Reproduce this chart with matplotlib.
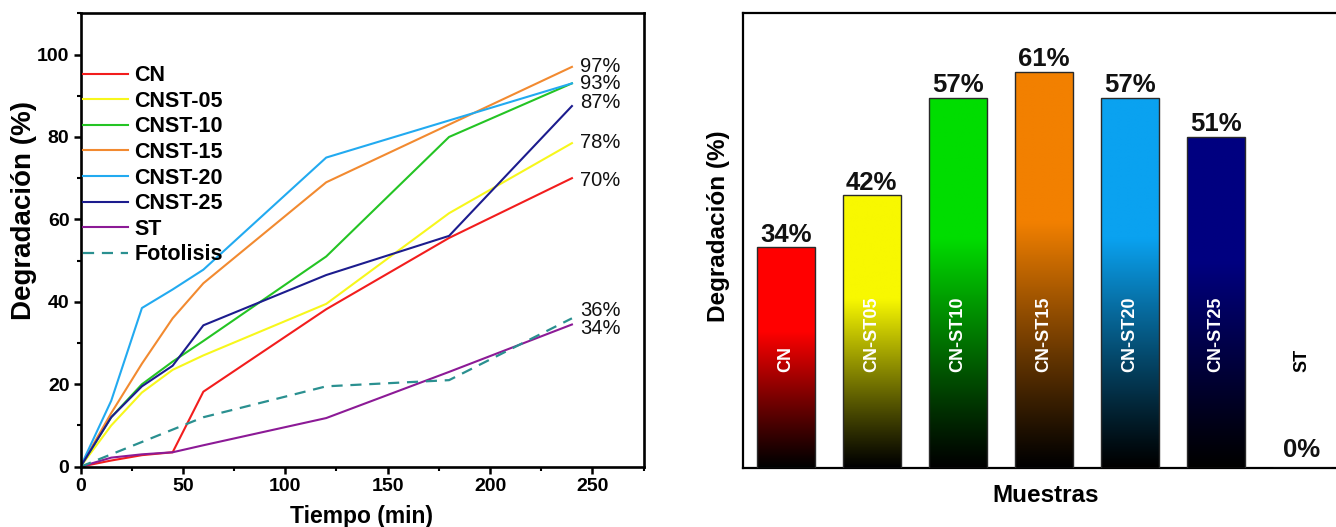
import numpy as np
import matplotlib
matplotlib.use("Agg")
import matplotlib.pyplot as plt
from matplotlib.ticker import MultipleLocator
from matplotlib.colors import to_rgb

plt.rcParams['font.family'] = ['Liberation Sans', 'DejaVu Sans']

# ---------------- data: left panel (kinetics) ----------------
time_min = [0, 15, 30, 45, 60, 120, 180, 240]
cn        = [0, 1.5, 2.8, 3.5, 18.2, 38.2, 55.5, 70.0]
cnst_05   = [0, 10.0, 18.0, 23.5, 27.0, 39.5, 61.5, 78.5]
cnst_10   = [0, 12.0, 20.0, 25.5, 30.5, 51.0, 80.0, 93.0]
cnst_15   = [0, 13.0, 25.0, 36.0, 44.5, 69.0, 83.0, 97.0]
cnst_20   = [0, 16.0, 38.5, 43.0, 47.8, 75.0, 84.0, 93.0]
cnst_25   = [0, 12.0, 19.5, 24.5, 34.3, 46.5, 56.0, 87.5]
st        = [0, 2.2, 3.0, 3.5, 5.2, 11.8, 23.0, 34.5]
fotolisis = [0, 3.0, 6.0, 9.0, 12.0, 19.5, 21.0, 36.0]

series_names = ["CN", "CNST-05", "CNST-10", "CNST-15", "CNST-20", "CNST-25", "ST", "Fotolisis"]
series_values = [cn, cnst_05, cnst_10, cnst_15, cnst_20, cnst_25, st, fotolisis]
series_colors = ["#f21d1d", "#f7f71c", "#24c424", "#f28a30", "#22aaf0", "#1c1c8e", "#8c1a96", "#2a9090"]

end_labels = ["97%", "93%", "87%", "78%", "70%", "36%", "34%"]
end_label_y = [97.2, 92.9, 88.3, 78.6, 69.4, 37.9, 33.6]

# ---------------- data: right panel (bars) ----------------
samples = ["CN", "CN-ST05", "CN-ST10", "CN-ST15", "CN-ST20", "CN-ST25", "ST"]
degradation = [34, 42, 57, 61, 57, 51, 0]
bar_colors = ["#ff0000", "#f8f800", "#00dd00", "#f28000", "#0aa2f0", "#000080", "#000000"]

W, H = 1336, 527
fig = plt.figure(figsize=(W / 100, H / 100), dpi=100)


def px_axes(l, t, r, b):
    return fig.add_axes([l / W, 1 - b / H, (r - l) / W, (b - t) / H])


# ================= left panel =================
ax1 = px_axes(80.5, 13.3, 643.6, 466.7)
for name, vals, col in zip(series_names, series_values, series_colors):
    if name == "Fotolisis":
        ax1.plot(time_min, vals, color=col, lw=1.6, ls=(0, (5, 3.5)), label=name)
    else:
        ax1.plot(time_min, vals, color=col, lw=1.5, label=name)

for s, y in zip(end_labels, end_label_y):
    ax1.text(244, y, s, fontsize=14.5, ha='left', va='center', color='#111111')

ax1.set_xlim(0, 275)
ax1.set_ylim(0, 110)
ax1.xaxis.set_major_locator(MultipleLocator(50))
ax1.xaxis.set_minor_locator(MultipleLocator(25))
ax1.yaxis.set_major_locator(MultipleLocator(20))
ax1.yaxis.set_minor_locator(MultipleLocator(10))
ax1.set_yticks([0, 20, 40, 60, 80, 100])
ax1.tick_params(which='major', direction='out', length=5, width=1.8, labelsize=14, pad=3)
ax1.tick_params(which='minor', direction='out', length=3, width=1.5)
for lab in ax1.get_xticklabels() + ax1.get_yticklabels():
    lab.set_fontweight('bold')
for sp in ax1.spines.values():
    sp.set_linewidth(1.9)

leg = ax1.legend(loc='upper left', bbox_to_anchor=(0.004, 0.885), frameon=False,
                 prop={'size': 15.5, 'weight': 'bold'}, handlelength=2.1,
                 handletextpad=0.3, labelspacing=0.21, borderaxespad=0, borderpad=0)

fig.text(362 / W, 1 - 516 / H, "Tiempo (min)", fontsize=16.5, fontweight='bold',
         ha='center', va='center')
fig.text(24 / W, 1 - 210 / H, "Degradación (%)", fontsize=20, fontweight='bold',
         ha='center', va='center', rotation=90)

# ================= right panel =================
ax2 = px_axes(742.7, 13.3, 1344.7, 468.3)
x = np.arange(len(samples))
bars = ax2.bar(x, degradation, width=0.674, facecolor='none', edgecolor='#2a2a2a',
               linewidth=1.0, zorder=3)

n = 256
frac = np.linspace(0, 1, n)
scale = np.clip(frac / 0.62, 0, 1) ** 1.1
for rect, col, v in zip(bars, bar_colors, degradation):
    if v <= 0:
        continue
    rgb = np.array(to_rgb(col))
    img = (scale[:, None] * rgb[None, :])[:, None, :]
    x0 = rect.get_x()
    im = ax2.imshow(img, extent=(x0, x0 + rect.get_width(), 0, v), origin='lower',
                    aspect='auto', interpolation='bilinear', zorder=2)
    im.set_clip_path(rect)

for xi, name, v in zip(x, samples, degradation):
    off = 4 if v > 0 else 8
    ax2.annotate(f"{v}%", (xi, v), xytext=(0, off), textcoords='offset points',
                 ha='center', va='baseline', fontsize=18.5, fontweight='bold', color='#111111')
    ax2.text(xi, 14.8, name, rotation=90, ha='center', va='bottom', fontsize=13,
             fontweight='bold', color='white' if v > 0 else 'black')

ax2.set_xlim(-0.5, len(samples) - 0.5)
ax2.set_ylim(0, 70)
ax2.set_xticks([])
ax2.set_yticks([])
for sp in ax2.spines.values():
    sp.set_linewidth(1.6)

fig.text(1046 / W, 1 - 495 / H, "Muestras", fontsize=17.5, fontweight='bold',
         ha='center', va='center')
fig.text(718 / W, 1 - 226 / H, "Degradación (%)", fontsize=17.5, fontweight='bold',
         ha='center', va='center', rotation=90)

fig.savefig("out.png", dpi=100, facecolor='white')
